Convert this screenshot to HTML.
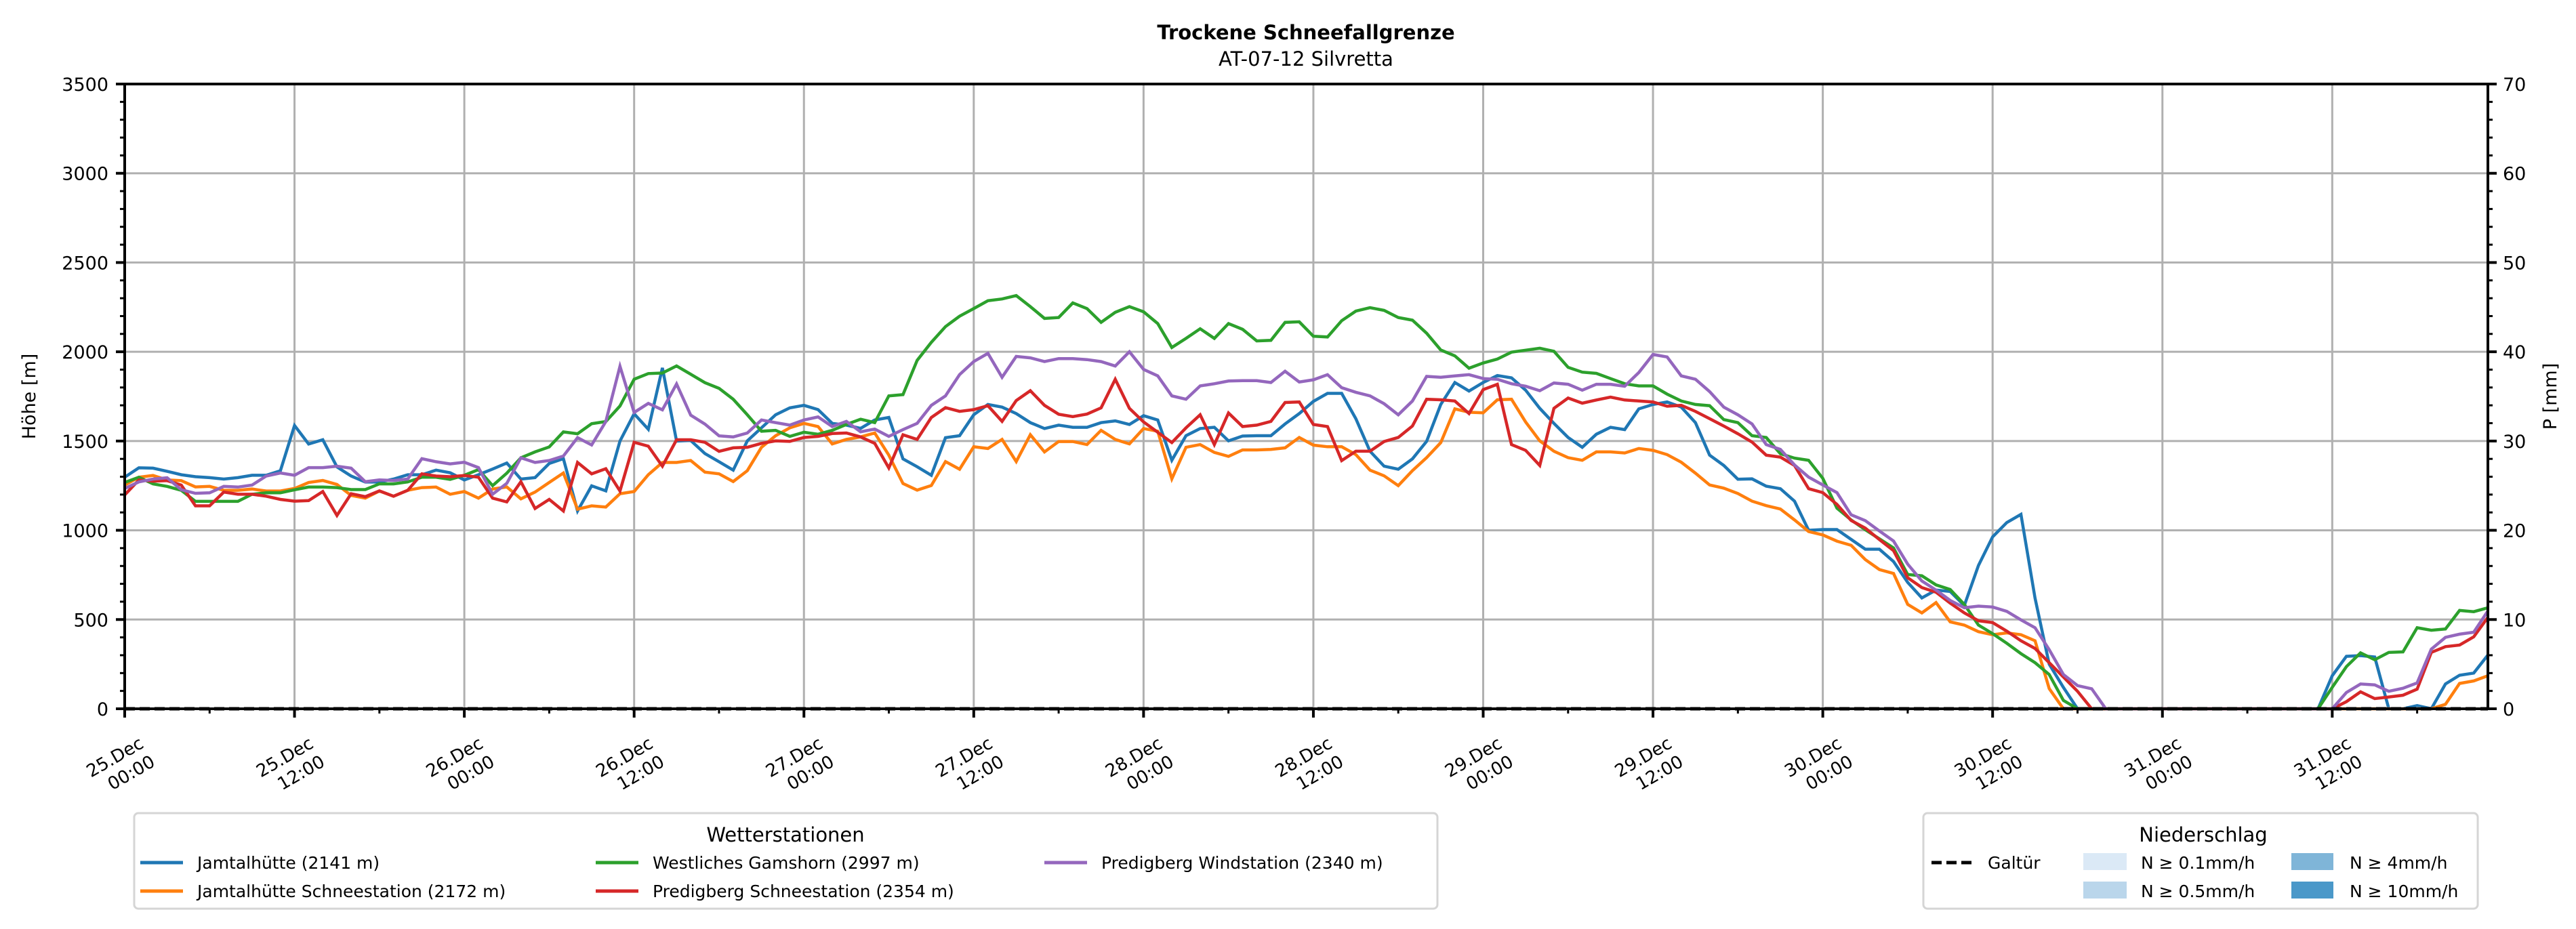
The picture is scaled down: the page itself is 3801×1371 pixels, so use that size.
<!DOCTYPE html>
<html><head><meta charset="utf-8"><style>
html,body{margin:0;padding:0;background:#fff;}
svg{display:block;font-family:"DejaVu Sans","Liberation Sans",sans-serif;}
</style></head><body>
<svg id="chart" width="3801" height="1371" viewBox="0 0 3801 1371" xmlns="http://www.w3.org/2000/svg">
<text x="1927" y="58" text-anchor="middle" font-size="29" font-weight="bold">Trockene Schneefallgrenze</text>
<text x="1927" y="97" text-anchor="middle" font-size="29">AT-07-12 Silvretta</text>
<g id="grid"></g>
<g id="series"></g>
<g id="axes"></g>
<text transform="translate(52,585) rotate(-90)" text-anchor="middle" font-size="27">Höhe [m]</text>
<text transform="translate(3772,585) rotate(-90)" text-anchor="middle" font-size="27">P [mm]</text>
<g>
<rect x="198" y="1200" width="1923" height="141" rx="6" fill="#fff" stroke="#d5d5d5" stroke-width="3"/>
<text x="1159" y="1242" text-anchor="middle" font-size="29">Wetterstationen</text>
<g><line x1="207" y1="1273" x2="270" y2="1273" stroke="#1f77b4" stroke-width="5"/><text x="291" y="1282" font-size="25">Jamtalhütte (2141 m)</text></g>
<g><line x1="207" y1="1315" x2="270" y2="1315" stroke="#ff7f0e" stroke-width="5"/><text x="291" y="1324" font-size="25">Jamtalhütte Schneestation (2172 m)</text></g>
<g><line x1="879" y1="1273" x2="942" y2="1273" stroke="#2ca02c" stroke-width="5"/><text x="963" y="1282" font-size="25">Westliches Gamshorn (2997 m)</text></g>
<g><line x1="879" y1="1315" x2="942" y2="1315" stroke="#d62728" stroke-width="5"/><text x="963" y="1324" font-size="25">Predigberg Schneestation (2354 m)</text></g>
<g><line x1="1541" y1="1273" x2="1604" y2="1273" stroke="#9467bd" stroke-width="5"/><text x="1625" y="1282" font-size="25">Predigberg Windstation (2340 m)</text></g>
</g>
<g>
<rect x="2838" y="1200" width="818" height="141" rx="6" fill="#fff" stroke="#d5d5d5" stroke-width="3"/>
<text x="3251" y="1242" text-anchor="middle" font-size="29">Niederschlag</text>
<g><line x1="2850" y1="1273" x2="2911" y2="1273" stroke="#000" stroke-width="5" stroke-dasharray="15,7"/><text x="2933" y="1282" font-size="25">Galtür</text></g>
<g><rect x="3074" y="1259" width="64" height="25" fill="#dbe9f6"/><text x="3159" y="1282" font-size="25">N ≥ 0.1mm/h</text></g>
<g><rect x="3074" y="1301" width="64" height="25" fill="#bad6eb"/><text x="3159" y="1324" font-size="25">N ≥ 0.5mm/h</text></g>
<g><rect x="3381" y="1259" width="62" height="25" fill="#7fb5d8"/><text x="3467" y="1282" font-size="25">N ≥ 4mm/h</text></g>
<g><rect x="3381" y="1301" width="62" height="25" fill="#4a98c9"/><text x="3467" y="1324" font-size="25">N ≥ 10mm/h</text></g>
</g>
</svg>
<script>
const hourCount = 168;
const xTickLabels = ["25.Dec|00:00","25.Dec|12:00","26.Dec|00:00","26.Dec|12:00","27.Dec|00:00","27.Dec|12:00","28.Dec|00:00","28.Dec|12:00","29.Dec|00:00","29.Dec|12:00","30.Dec|00:00","30.Dec|12:00","31.Dec|00:00","31.Dec|12:00"];
const yTicks = [0,500,1000,1500,2000,2500,3000,3500];
const y2Ticks = [0,10,20,30,40,50,60,70];
const galtuerPrecip = [0,0];
const jamtal = [1297,1350,1348,1330,1311,1300,1295,1287,1295,1308,1308,1333,
1587,1483,1507,1355,1304,1270,1270,1287,1311,1311,1337,1322,
1282,1311,1343,1377,1287,1295,1374,1401,1108,1249,1221,1500,
1653,1566,1910,1500,1503,1430,1384,1337,1501,1574,1647,1686,
1700,1676,1599,1589,1571,1618,1632,1400,1356,1308,1519,1530,
1647,1705,1690,1654,1603,1570,1589,1577,1577,1603,1613,1593,
1642,1618,1392,1530,1570,1577,1501,1528,1530,1530,1596,1654,
1722,1767,1767,1625,1443,1359,1342,1400,1498,1705,1828,1780,
1828,1867,1854,1785,1683,1599,1520,1465,1538,1577,1564,1680,
1705,1719,1690,1603,1421,1363,1286,1288,1247,1233,1163,1000,
1004,1004,949,894,894,825,708,621,665,657,578,803,
963,1043,1089,620,250,120,0,0,0,0,0,0,
0,0,0,0,0,0,0,0,0,0,0,0,
185,294,298,290,0,0,18,0,139,188,200,301];
const jamtalSchnee = [1253,1297,1307,1282,1278,1243,1246,1224,1224,1231,1220,1220,
1234,1268,1279,1257,1195,1180,1220,1191,1224,1239,1242,1202,
1217,1180,1231,1243,1176,1214,1268,1321,1118,1137,1130,1205,
1217,1311,1380,1380,1391,1326,1316,1273,1334,1465,1530,1574,
1599,1581,1484,1509,1523,1545,1421,1262,1225,1251,1385,1342,
1468,1458,1509,1385,1535,1439,1497,1497,1480,1560,1509,1484,
1570,1555,1288,1465,1480,1436,1414,1450,1450,1453,1462,1520,
1477,1468,1468,1424,1337,1305,1250,1334,1407,1491,1680,1661,
1658,1731,1734,1607,1501,1443,1407,1392,1439,1439,1433,1458,
1448,1424,1381,1320,1254,1236,1206,1163,1138,1119,1058,993,
974,939,916,836,780,758,585,537,595,487,469,432,
415,425,415,381,113,0,0,0,0,0,0,0,
0,0,0,0,0,0,0,0,0,0,0,0,
0,0,0,0,0,0,0,0,25,142,156,185];
const gamshorn = [1268,1297,1260,1246,1224,1162,1162,1162,1162,1202,1210,1210,
1227,1242,1242,1239,1228,1228,1260,1260,1271,1297,1297,1285,
1308,1340,1250,1320,1406,1439,1467,1551,1541,1597,1609,1696,
1846,1878,1881,1921,1874,1827,1795,1734,1647,1555,1560,1526,
1549,1538,1560,1593,1622,1603,1753,1760,1952,2053,2141,2199,
2242,2286,2296,2315,2253,2187,2192,2274,2242,2165,2221,2253,
2224,2158,2024,2075,2129,2075,2158,2126,2061,2064,2165,2168,
2087,2083,2174,2228,2247,2232,2192,2177,2104,2010,1977,1908,
1937,1959,1998,2009,2020,2003,1913,1886,1879,1850,1821,1809,
1809,1763,1724,1705,1698,1620,1603,1530,1520,1429,1404,1392,
1291,1124,1058,1003,952,901,752,745,694,668,585,469,
421,367,309,258,192,47,0,0,0,0,0,0,
0,0,0,0,0,0,0,0,0,0,0,0,
120,236,313,275,316,319,454,440,447,551,544,566];
const predigSchnee = [1198,1282,1275,1278,1253,1137,1137,1214,1202,1202,1191,1173,
1163,1166,1217,1083,1205,1188,1221,1191,1224,1316,1304,1300,
1307,1297,1180,1159,1272,1122,1173,1108,1380,1316,1345,1220,
1493,1471,1359,1507,1507,1493,1442,1462,1465,1487,1501,1498,
1520,1526,1542,1545,1523,1487,1349,1535,1509,1632,1687,1666,
1676,1698,1610,1727,1782,1700,1650,1637,1651,1686,1846,1683,
1607,1549,1491,1574,1647,1480,1657,1581,1589,1610,1716,1719,
1593,1581,1390,1443,1443,1497,1520,1584,1734,1731,1724,1654,
1788,1818,1480,1448,1363,1683,1741,1712,1730,1746,1730,1724,
1719,1695,1700,1666,1625,1584,1541,1494,1421,1410,1363,1233,
1211,1145,1055,1012,948,886,734,679,653,592,537,493,
483,435,381,338,258,178,98,0,0,0,0,0,
0,0,0,0,0,0,0,0,0,0,0,0,
0,40,95,57,66,76,110,316,348,357,403,512];
const predigWind = [1234,1271,1287,1294,1227,1207,1210,1246,1242,1253,1304,1321,
1308,1351,1351,1359,1348,1272,1282,1279,1287,1401,1384,1372,
1381,1351,1202,1263,1406,1380,1391,1416,1519,1478,1609,1919,
1660,1711,1675,1820,1645,1595,1529,1523,1545,1618,1603,1589,
1618,1635,1581,1610,1552,1567,1526,1564,1599,1700,1753,1872,
1945,1991,1857,1974,1966,1945,1962,1962,1956,1945,1920,2000,
1901,1865,1753,1734,1809,1821,1836,1838,1838,1828,1891,1831,
1843,1872,1799,1773,1753,1709,1647,1724,1862,1857,1865,1872,
1850,1846,1821,1807,1782,1825,1818,1785,1818,1818,1807,1884,
1985,1971,1865,1846,1777,1690,1647,1596,1480,1453,1366,1298,
1254,1211,1087,1054,996,940,810,716,665,607,566,575,
570,546,498,454,331,192,130,112,0,0,0,0,
0,0,0,0,0,0,0,0,0,0,0,0,
0,91,139,134,98,115,145,334,400,418,429,548];

const NS = "http://www.w3.org/2000/svg";
const X0 = 184, X1 = 3671, Y0 = 1046, Y1 = 124;
const HMAX = 167, VMAX = 3500, PMAX = 70;
function xScale(h){ return X0 + h*(X1-X0)/HMAX; }
function yScale(v){ return Y0 - v*(Y0-Y1)/VMAX; }
function pScale(p){ return Y0 - p*(Y0-Y1)/PMAX; }
function mk(tag, attrs, parent){ const e=document.createElementNS(NS,tag); for(const k in attrs) e.setAttribute(k,attrs[k]); parent.appendChild(e); return e; }

const grid = document.getElementById('grid');
const axes = document.getElementById('axes');
const seriesG = document.getElementById('series');

yTicks.forEach(v=>{
  const l = mk('line',{x1:X0,x2:X1,y1:yScale(v),y2:yScale(v),stroke:'#b0b0b0','stroke-width':3},grid);
  
  
});
xTickLabels.forEach((lab,i)=>{
  const x = xScale(i*12);
  const l = mk('line',{x1:x,x2:x,y1:Y1,y2:Y0,stroke:'#b0b0b0','stroke-width':3},grid);
  
  
});

const colors = ['#1f77b4','#ff7f0e','#2ca02c','#d62728','#9467bd'];
const names = ['line-jamtal','line-jamtal-schnee','line-gamshorn','line-predigberg-schnee','line-predigberg-wind'];
[jamtal,jamtalSchnee,gamshorn,predigSchnee,predigWind].forEach((arr,si)=>{
  let d='';
  for(let h=0;h<hourCount && h<arr.length;h++){ d += (h?'L':'M')+xScale(h).toFixed(1)+','+yScale(arr[h]).toFixed(1); }
  const p = mk('path',{d:d,fill:'none',stroke:colors[si],'stroke-width':4.5,'stroke-linejoin':'miter'},seriesG);
  
  
});
const gl = mk('line',{x1:xScale(0),x2:xScale(HMAX),y1:pScale(galtuerPrecip[0]),y2:pScale(galtuerPrecip[1]),stroke:'#000','stroke-width':5,'stroke-dasharray':'15,7'},seriesG);



const fr = mk('rect',{x:X0,y:Y1,width:X1-X0,height:Y0-Y1,fill:'none',stroke:'#000','stroke-width':4},axes);



for(let v=0; v<=VMAX; v+=100){
  const major = v%500===0;
  const t = mk('line',{x1:X0,x2:X0-(major?13:7),y1:yScale(v),y2:yScale(v),stroke:'#000','stroke-width':major?4:3},axes);
  
  
}
yTicks.forEach(v=>{
  const t = mk('text',{x:X0-24,y:yScale(v)+10,'text-anchor':'end','font-size':27},axes);
  t.textContent = v;
  
  
});
for(let p=0;p<=PMAX;p+=2){
  const major = p%10===0;
  const t = mk('line',{x1:X1,x2:X1+(major?13:7),y1:pScale(p),y2:pScale(p),stroke:'#000','stroke-width':major?4:3},axes);
  
  
}
y2Ticks.forEach(p=>{
  const t = mk('text',{x:X1+22,y:pScale(p)+10,'text-anchor':'start','font-size':27},axes);
  t.textContent = p;
  
  
});
for(let h=0; h<=HMAX; h+=6){
  const major = h%12===0;
  const t = mk('line',{x1:xScale(h),x2:xScale(h),y1:Y0,y2:Y0+(major?13:7),stroke:'#000','stroke-width':major?4:3},axes);
  
  
}
xTickLabels.forEach((lab,i)=>{
  const x = xScale(i*12);
  const parts = lab.split('|');
  const a = mk('text',{transform:'translate('+(x-10).toFixed(1)+',1125) rotate(-30)','text-anchor':'middle','font-size':26},axes);
  a.textContent = parts[0];
  
  
  const b = mk('text',{transform:'translate('+(x+14).toFixed(1)+',1148) rotate(-30)','text-anchor':'middle','font-size':26},axes);
  b.textContent = parts[1];
  
  
});
</script>
</body></html>
